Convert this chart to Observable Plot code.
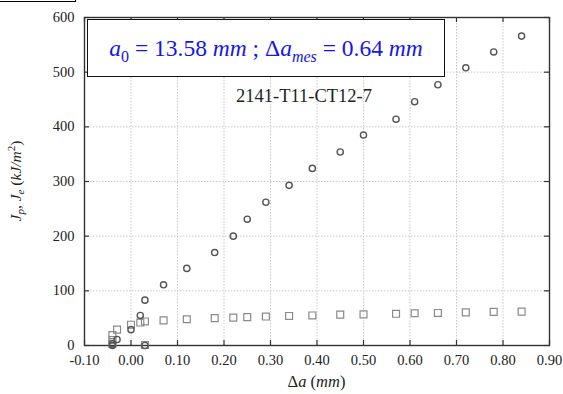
<!DOCTYPE html>
<html><head><meta charset="utf-8">
<script src="https://cdn.jsdelivr.net/npm/d3@7"></script>
<script src="https://cdn.jsdelivr.net/npm/@observablehq/plot@0.6"></script>
<style>
body{margin:0;background:#fff;}
#wrap{position:relative;width:563px;height:394px;overflow:hidden;background:#fff;}
#corner{position:absolute;left:0;top:-1px;width:75px;height:2px;border-right:1px solid #000;border-bottom:1px solid #000;}
#box{position:absolute;left:87px;top:19px;width:356px;height:56px;border:1.3px solid #111;background:#fff;
  display:flex;align-items:center;justify-content:center;font-family:"Liberation Serif","Times New Roman","Tinos","DejaVu Serif",serif;font-size:23.5px;color:#1414f0;white-space:nowrap;}
#box sub{font-size:16px;vertical-align:-6px;line-height:0;}
#title{position:absolute;left:204px;width:200px;top:86px;text-align:center;font-family:"Liberation Serif","Times New Roman","Tinos","DejaVu Serif",serif;font-size:18.5px;color:#222;}
svg text{font-family:"Liberation Serif","Times New Roman","Tinos","DejaVu Serif",serif !important;}
</style></head><body>
<div id="wrap"></div>
<script>
// tick values
const xTicks = [-0.1, 0.0, 0.1, 0.2, 0.3, 0.4, 0.5, 0.6, 0.7, 0.8, 0.9];
const yTicks = [0, 100, 200, 300, 400, 500, 600];

// J_p (circles)
const jpDa = [-0.04, -0.04, -0.03, 0.00, 0.02, 0.03, 0.03, 0.07, 0.12, 0.18, 0.22, 0.25, 0.29, 0.34, 0.39, 0.45, 0.50, 0.57, 0.61, 0.66, 0.72, 0.78, 0.84];
const jpJ  = [0, 3, 11, 29, 55, 83, 0, 111, 141, 170, 200, 231, 262, 293, 324, 354, 385, 414, 446, 477, 508, 537, 566];

// J_e (squares)
const jeDa = [-0.04, -0.04, -0.04, -0.03, 0.00, 0.02, 0.03, 0.03, 0.07, 0.12, 0.18, 0.22, 0.25, 0.29, 0.34, 0.39, 0.45, 0.50, 0.57, 0.61, 0.66, 0.72, 0.78, 0.84];
const jeJ  = [3, 10, 19, 29, 38, 42, 44, 1, 46, 48, 50, 51, 52, 53, 54, 55, 56.5, 57, 58, 59, 59.5, 60.5, 61.5, 62];

const jp = jpDa.map((d, i) => ({da: d, j: jpJ[i]}));
const je = jeDa.map((d, i) => ({da: d, j: jeJ[i]}));

const SERIF = "'Liberation Serif', 'Times New Roman', Tinos, 'DejaVu Serif', serif";
const W = 563, H = 394, mL = 84, mR = 14, mT = 17, mB = 49;
const iw = W - mL - mR, ih = H - mT - mB;
const fmtX = d => d.toFixed(2);

const chart = Plot.plot({
  width: W, height: H,
  marginLeft: mL, marginRight: mR, marginTop: mT, marginBottom: mB,
  style: {fontFamily: SERIF, fontSize: "14.5px", color: "#222", background: "#fff"},
  x: {domain: [-0.1, 0.9]},
  y: {domain: [0, 600]},
  marks: [
    Plot.gridX(xTicks, {stroke: "#c8c8c8", strokeOpacity: 1, strokeDasharray: "1.5,1.5"}),
    Plot.gridY(yTicks, {stroke: "#c8c8c8", strokeOpacity: 1, strokeDasharray: "1.5,1.5"}),
    Plot.axisX(xTicks, {tickSize: 0, tickPadding: 9, tickFormat: fmtX, label: null}),
    Plot.axisY(yTicks, {tickSize: 0, tickPadding: 10, label: null}),
    Plot.ruleX(xTicks, {x: d => d, insetTop: ih - 5, stroke: "#333", strokeWidth: 1.2}),
    Plot.ruleX(xTicks, {x: d => d, insetBottom: ih - 5, stroke: "#333", strokeWidth: 1.2}),
    Plot.ruleY(yTicks, {y: d => d, insetRight: iw - 5, stroke: "#333", strokeWidth: 1.2}),
    Plot.ruleY(yTicks, {y: d => d, insetLeft: iw - 5, stroke: "#333", strokeWidth: 1.2}),
    Plot.frame({stroke: "#333", strokeWidth: 1.4}),
    Plot.dot(je, {x: "da", y: "j", symbol: "square", r: 3.9, stroke: "#8a8a8a", strokeWidth: 1.2, fill: "none"}),
    Plot.dot(jp, {x: "da", y: "j", symbol: "circle", r: 3.1, stroke: "#555", strokeWidth: 1.4, fill: "none"})
  ]
});

const wrap = document.getElementById("wrap");
wrap.appendChild(chart);

const svg = d3.select(chart);
// x label
const xl = svg.append("text")
  .attr("x", (mL + W - mR) / 2).attr("y", 387)
  .attr("text-anchor", "middle")
  .attr("font-family", SERIF).attr("font-size", 16.5).attr("fill", "#222");
xl.append("tspan").text("Δ");
xl.append("tspan").attr("font-style", "italic").text("a");
xl.append("tspan").text(" (");
xl.append("tspan").attr("font-style", "italic").text("mm");
xl.append("tspan").text(")");

// y label
const yl = svg.append("text")
  .attr("transform", `translate(21,${(mT + H - mB) / 2}) rotate(-90)`)
  .attr("text-anchor", "middle")
  .attr("font-family", SERIF).attr("font-size", 15.5).attr("fill", "#222");
yl.append("tspan").attr("font-style", "italic").text("J");
yl.append("tspan").attr("font-style", "italic").attr("font-size", 11).attr("dy", 3).text("p");
yl.append("tspan").attr("dy", -3).text(", ");
yl.append("tspan").attr("font-style", "italic").text("J");
yl.append("tspan").attr("font-style", "italic").attr("font-size", 11).attr("dy", 3).text("e");
yl.append("tspan").attr("dy", -3).text(" (");
yl.append("tspan").attr("font-style", "italic").text("kJ/m");
yl.append("tspan").attr("font-size", 11).attr("dy", -6).text("2");
yl.append("tspan").attr("dy", 6).text(")");

// overlays
const corner = document.createElement("div"); corner.id = "corner"; wrap.appendChild(corner);
const box = document.createElement("div"); box.id = "box";
box.innerHTML = '<span><i>a</i><sub>0</sub> = 13.58 <i>mm</i> ; Δ<i>a</i><sub><i>mes</i></sub> = 0.64 <i>mm</i></span>';
wrap.appendChild(box);
const title = document.createElement("div"); title.id = "title"; title.textContent = "2141-T11-CT12-7";
wrap.appendChild(title);
</script>
</body></html>
